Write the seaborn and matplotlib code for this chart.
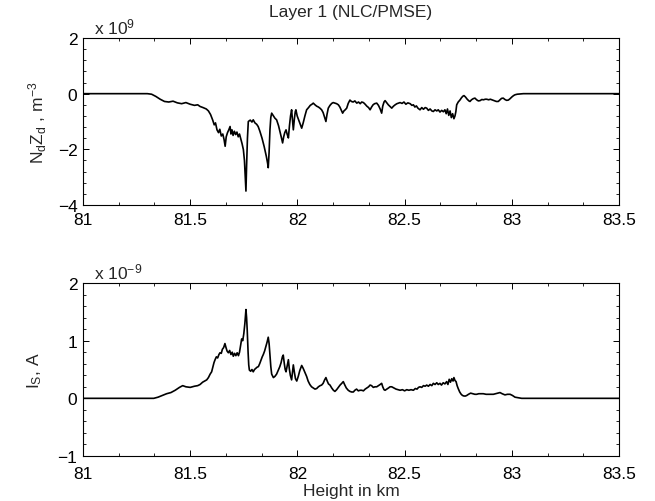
import numpy as np
import pandas as pd
import matplotlib
matplotlib.use("Agg")
import matplotlib.pyplot as plt
from matplotlib.ticker import FuncFormatter, AutoMinorLocator, FixedLocator
import seaborn as sns

# ---------------- data ----------------
h_top = [81.00, 81.30, 81.32, 81.34, 81.36, 81.38, 81.40, 81.42, 81.44, 81.46, 81.48, 81.50, 81.52, 81.535,
         81.546, 81.56, 81.575, 81.585, 81.595, 81.605, 81.612, 81.618, 81.625, 81.632, 81.638, 81.645, 81.652,
         81.658, 81.663, 81.668, 81.674, 81.680, 81.686, 81.690, 81.695, 81.700, 81.706, 81.712, 81.718, 81.724,
         81.730, 81.736, 81.742, 81.748, 81.753, 81.757, 81.760, 81.763, 81.767, 81.771, 81.780, 81.788, 81.794,
         81.802, 81.810, 81.817, 81.825, 81.835, 81.845, 81.855, 81.861, 81.864, 81.868, 81.872, 81.876, 81.880,
         81.888, 81.895, 81.903, 81.912, 81.920, 81.926, 81.931, 81.936, 81.941, 81.947, 81.952, 81.958, 81.963,
         81.968, 81.973, 81.977, 81.981, 81.986, 81.990, 81.993, 81.999, 82.006, 82.013, 82.020, 82.027, 82.035,
         82.043, 82.052, 82.060, 82.068, 82.074, 82.082, 82.090, 82.098, 82.105, 82.113, 82.120, 82.127, 82.133,
         82.138, 82.144, 82.152, 82.160, 82.167, 82.175, 82.183, 82.191, 82.198, 82.205, 82.211, 82.217, 82.223,
         82.230, 82.237, 82.245, 82.252, 82.260, 82.268, 82.277, 82.285, 82.293, 82.300, 82.308, 82.316, 82.324,
         82.332, 82.339, 82.346, 82.353, 82.360, 82.370, 82.378, 82.386, 82.393, 82.398, 82.404, 82.409, 82.416,
         82.424, 82.432, 82.440, 82.448, 82.456, 82.464, 82.472, 82.479, 82.488, 82.497, 82.506, 82.515, 82.526,
         82.534, 82.541, 82.548, 82.555, 82.562, 82.572, 82.580, 82.588, 82.596, 82.603, 82.611, 82.619, 82.627,
         82.634, 82.642, 82.650, 82.657, 82.665, 82.673, 82.681, 82.688, 82.694, 82.700, 82.706, 82.712, 82.718,
         82.724, 82.730, 82.735, 82.739, 82.743, 82.750, 82.758, 82.766, 82.772, 82.777, 82.784, 82.792, 82.800,
         82.805, 82.812, 82.820, 82.828, 82.836, 82.844, 82.852, 82.860, 82.868, 82.876, 82.883, 82.892, 82.900,
         82.910, 82.920, 82.928, 82.937, 82.945, 82.952, 82.960, 82.968, 82.976, 82.984, 82.992, 83.000, 83.008,
         83.015, 83.025, 83.040, 83.054, 83.50]
nz_top = [0, 0, -0.02, -0.10, -0.20, -0.28, -0.30, -0.27, -0.33, -0.36, -0.32, -0.38, -0.42, -0.40,
          -0.46, -0.50, -0.55, -0.62, -0.75, -0.95, -1.12, -1.05, -1.30, -1.40, -1.28, -1.52, -1.45,
          -1.65, -1.89, -1.55, -1.40, -1.30, -1.18, -1.45, -1.30, -1.50, -1.35, -1.47, -1.38, -1.55,
          -1.45, -1.62, -1.80, -2.01, -2.40, -3.00, -3.50, -2.60, -1.60, -1.00, -0.95, -1.02, -0.94,
          -1.05, -1.10, -1.18, -1.35, -1.60, -1.90, -2.25, -2.50, -2.66, -2.10, -1.30, -0.85, -0.70,
          -0.80, -0.88, -0.94, -1.15, -1.40, -1.60, -1.77, -1.55, -1.40, -1.30, -1.45, -1.59, -1.15,
          -0.80, -0.58, -0.95, -1.30, -0.90, -0.65, -0.58, -0.80, -0.95, -1.10, -1.24, -1.05, -0.80,
          -0.58, -0.50, -0.42, -0.38, -0.34, -0.40, -0.45, -0.48, -0.52, -0.58, -0.68, -0.85, -1.00,
          -0.75, -0.52, -0.42, -0.35, -0.32, -0.34, -0.36, -0.40, -0.48, -0.60, -0.70, -0.62, -0.58,
          -0.52, -0.35, -0.23, -0.28, -0.30, -0.26, -0.34, -0.30, -0.36, -0.30, -0.32, -0.38, -0.45,
          -0.50, -0.58, -0.48, -0.40, -0.36, -0.34, -0.42, -0.55, -0.70, -0.45, -0.30, -0.25, -0.32,
          -0.40, -0.46, -0.52, -0.45, -0.40, -0.36, -0.34, -0.32, -0.35, -0.30, -0.38, -0.33, -0.36,
          -0.42, -0.40, -0.48, -0.44, -0.52, -0.58, -0.50, -0.56, -0.50, -0.52, -0.60, -0.55, -0.62,
          -0.64, -0.58, -0.62, -0.58, -0.66, -0.60, -0.65, -0.58, -0.72, -0.55, -0.78, -0.62, -0.86,
          -0.72, -0.90, -0.80, -0.65, -0.40, -0.30, -0.23, -0.14, -0.09, -0.07, -0.12, -0.20, -0.26,
          -0.28, -0.22, -0.18, -0.16, -0.22, -0.26, -0.25, -0.21, -0.22, -0.20, -0.20, -0.22, -0.20,
          -0.23, -0.26, -0.28, -0.28, -0.22, -0.17, -0.16, -0.21, -0.24, -0.23, -0.18, -0.12, -0.07,
          -0.04, -0.02, -0.01, 0, 0]

h_bot = [81.00, 81.33, 81.35, 81.37, 81.39, 81.41, 81.43, 81.45, 81.465, 81.48, 81.50, 81.52, 81.535,
         81.546, 81.558, 81.568, 81.577, 81.585, 81.593, 81.600, 81.606, 81.611, 81.616, 81.622, 81.628,
         81.634, 81.639, 81.645, 81.650, 81.656, 81.662, 81.667, 81.672, 81.678, 81.684, 81.690, 81.696,
         81.701, 81.707, 81.713, 81.719, 81.725, 81.730, 81.735, 81.740, 81.745, 81.750, 81.755, 81.760,
         81.763, 81.766, 81.770, 81.773, 81.776, 81.782, 81.788, 81.794, 81.800, 81.806, 81.812, 81.818,
         81.824, 81.830, 81.836, 81.841, 81.847, 81.853, 81.859, 81.864, 81.868, 81.872, 81.876, 81.880,
         81.888, 81.895, 81.903, 81.911, 81.918, 81.924, 81.930, 81.934, 81.939, 81.943, 81.947, 81.952,
         81.958, 81.962, 81.967, 81.973, 81.977, 81.981, 81.986, 81.991, 81.997, 82.004, 82.011, 82.020,
         82.027, 82.035, 82.043, 82.050, 82.058, 82.066, 82.074, 82.082, 82.090, 82.098, 82.106, 82.113,
         82.120, 82.127, 82.133, 82.139, 82.145, 82.152, 82.160, 82.168, 82.175, 82.183, 82.191, 82.199,
         82.207, 82.214, 82.220, 82.228, 82.237, 82.245, 82.253, 82.261, 82.268, 82.276, 82.284, 82.292,
         82.300, 82.308, 82.316, 82.324, 82.332, 82.339, 82.346, 82.354, 82.362, 82.370, 82.378, 82.386,
         82.393, 82.398, 82.404, 82.409, 82.417, 82.425, 82.432, 82.440, 82.450, 82.460, 82.470, 82.479,
         82.490, 82.500, 82.510, 82.520, 82.530, 82.541, 82.550, 82.558, 82.565, 82.572, 82.580, 82.588,
         82.596, 82.603, 82.611, 82.619, 82.627, 82.634, 82.642, 82.650, 82.657, 82.665, 82.672, 82.680,
         82.688, 82.696, 82.702, 82.708, 82.714, 82.720, 82.726, 82.730, 82.735, 82.740, 82.745, 82.750,
         82.757, 82.764, 82.770, 82.777, 82.784, 82.790, 82.798, 82.808, 82.818, 82.828, 82.836, 82.846,
         82.856, 82.867, 82.880, 82.895, 82.914, 82.925, 82.935, 82.945, 82.955, 82.968, 82.980, 82.992,
         83.003, 83.015, 83.030, 83.046, 83.50]
is_bot = [0, 0, 0.02, 0.05, 0.08, 0.10, 0.14, 0.19, 0.22, 0.20, 0.19, 0.21, 0.22,
          0.24, 0.28, 0.30, 0.32, 0.36, 0.42, 0.46, 0.55, 0.62, 0.67, 0.72, 0.70,
          0.76, 0.79, 0.78, 0.85, 0.88, 0.95, 0.88, 0.82, 0.79, 0.83, 0.76, 0.80,
          0.73, 0.78, 0.74, 0.79, 0.74, 0.80, 0.92, 1.03, 1.00, 1.12, 1.30, 1.54,
          1.40, 1.18, 0.80, 0.58, 0.49, 0.47, 0.50, 0.46, 0.50, 0.52, 0.54, 0.55,
          0.60, 0.66, 0.72, 0.76, 0.82, 0.90, 0.98, 1.06, 0.95, 0.75, 0.55, 0.42,
          0.36, 0.38, 0.42, 0.49, 0.55, 0.62, 0.72, 0.75, 0.60, 0.50, 0.46, 0.56,
          0.67, 0.52, 0.40, 0.32, 0.45, 0.58, 0.45, 0.34, 0.30, 0.38, 0.48, 0.57,
          0.52, 0.45, 0.38, 0.30, 0.24, 0.20, 0.18, 0.16, 0.17, 0.20, 0.22, 0.23,
          0.26, 0.32, 0.36, 0.30, 0.25, 0.23, 0.18, 0.14, 0.12, 0.15, 0.19, 0.23,
          0.26, 0.29, 0.24, 0.18, 0.14, 0.12, 0.11, 0.11, 0.14, 0.16, 0.13, 0.14,
          0.14, 0.13, 0.16, 0.18, 0.20, 0.23, 0.22, 0.19, 0.20, 0.20, 0.22, 0.24,
          0.26, 0.20, 0.15, 0.14, 0.16, 0.18, 0.20, 0.20, 0.18, 0.16, 0.15, 0.14,
          0.15, 0.13, 0.15, 0.14, 0.15, 0.14, 0.17, 0.16, 0.19, 0.20, 0.19, 0.22,
          0.21, 0.23, 0.21, 0.24, 0.22, 0.26, 0.24, 0.27, 0.24, 0.26, 0.23, 0.27,
          0.25, 0.29, 0.24, 0.33, 0.28, 0.34, 0.30, 0.36, 0.31, 0.29, 0.22, 0.17,
          0.11, 0.07, 0.05, 0.04, 0.04, 0.05, 0.07, 0.09, 0.08, 0.07, 0.07, 0.08,
          0.08, 0.08, 0.07, 0.07, 0.07, 0.08, 0.09, 0.10, 0.08, 0.06, 0.07, 0.07,
          0.05, 0.02, 0.01, 0, 0]

x_ticks = [81, 81.5, 82, 82.5, 83, 83.5]
y_ticks_top = [-4, -2, 0, 2]
y_ticks_bot = [-1, 0, 1, 2]

title_text = "Layer 1 (NLC/PMSE)"
ylabel_top = r"N$_{d}$Z$_{d}$ , m$^{-3}$"
ylabel_bot = r"I$_{S}$, A"
xlabel_text = "Height in km"
exp_top = r"x 10$^{9}$"
exp_bot = r"x 10$^{-9}$"

# ---------------- styling ----------------
sns.set_theme(style="ticks")
plt.rcParams["font.family"] = ["Liberation Sans", "DejaVu Sans"]
plt.rcParams["mathtext.fontset"] = "custom"
plt.rcParams["mathtext.rm"] = "Liberation Sans"
plt.rcParams["mathtext.it"] = "Liberation Sans"
plt.rcParams["mathtext.default"] = "regular"
plt.rcParams["axes.unicode_minus"] = True

FS = 12.5

fig = plt.figure(figsize=(6.55, 5.02), dpi=100)
W, H = 655, 502
def axrect(l, t, r, b):
    return [l / W, 1 - b / H, (r - l) / W, (b - t) / H]

ax1 = fig.add_axes(axrect(83, 39, 619, 206))
ax2 = fig.add_axes(axrect(83, 284, 619, 457))

df_top = pd.DataFrame({"h": h_top, "v": nz_top})
df_bot = pd.DataFrame({"h": h_bot, "v": is_bot})

sns.lineplot(data=df_top, x="h", y="v", ax=ax1, color="black", linewidth=1.2, estimator=None, sort=False)
sns.lineplot(data=df_bot, x="h", y="v", ax=ax2, color="black", linewidth=1.2, estimator=None, sort=False)

fmt = FuncFormatter(lambda v, p: ("%g" % v).replace("-", "\u2212"))

for ax, yt, nminor, xpad in ((ax1, y_ticks_top, 5, 5), (ax2, y_ticks_bot, 5, 7)):
    ax.set_xlim(81, 83.5)
    ax.set_ylim(yt[0], yt[-1])
    ax.xaxis.set_major_locator(FixedLocator(x_ticks))
    ax.yaxis.set_major_locator(FixedLocator(yt))
    ax.xaxis.set_minor_locator(AutoMinorLocator(3))
    ax.yaxis.set_minor_locator(AutoMinorLocator(nminor))
    ax.xaxis.set_major_formatter(fmt)
    ax.yaxis.set_major_formatter(fmt)
    ax.tick_params(which="both", direction="in", top=True, right=True, colors="black",
                   labelsize=FS, pad=4)
    ax.tick_params(axis="x", which="major", pad=xpad)
    ax.tick_params(which="major", length=4.5, width=0.7)
    ax.tick_params(which="minor", length=2.5, width=0.6)
    for s in ax.spines.values():
        s.set_visible(True)
        s.set_linewidth(0.8)
        s.set_color("black")
    ax.set_xlabel("")
    ax.set_ylabel("")
    ax.grid(False)

ax1.set_ylabel(ylabel_top, fontsize=FS, labelpad=6)
ax2.set_ylabel(ylabel_bot, fontsize=FS, labelpad=10)
ax2.set_xlabel(xlabel_text, fontsize=FS, labelpad=2)
ax1.set_title(title_text, fontsize=FS, pad=16)

ax1.text(0.02, 1.01, exp_top, transform=ax1.transAxes, fontsize=FS, ha="left", va="bottom")
ax2.text(0.02, 1.01, exp_bot, transform=ax2.transAxes, fontsize=FS, ha="left", va="bottom")

fig.savefig("out.png", dpi=100, facecolor="white")
